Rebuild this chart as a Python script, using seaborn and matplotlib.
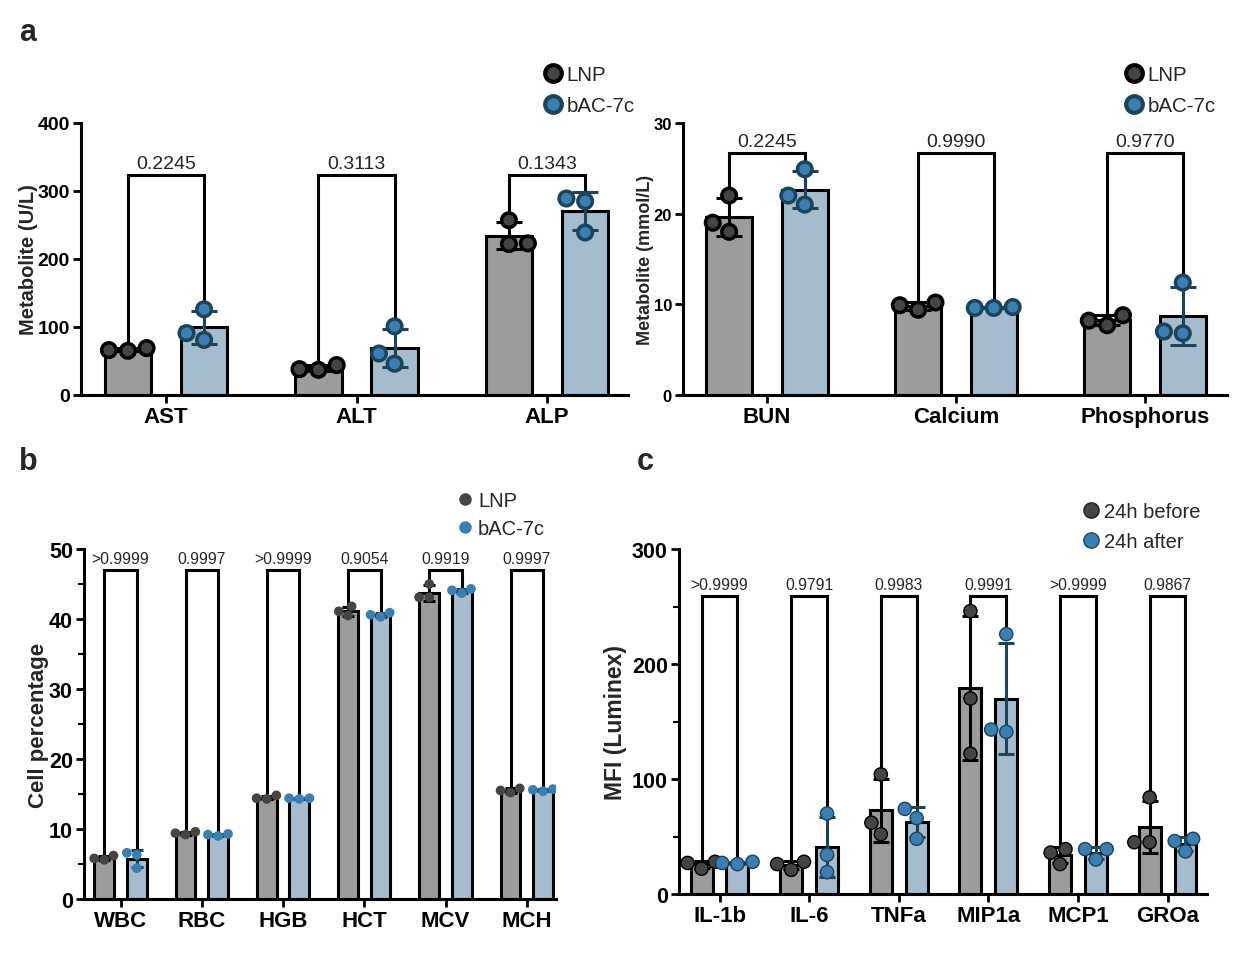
import numpy as np
import pandas as pd
import seaborn as sns
import matplotlib.pyplot as plt
from matplotlib.lines import Line2D
from matplotlib.collections import PathCollection
from matplotlib.colors import same_color

# === datos (3 replicas por grupo) ===
liver_cats = ['AST', 'ALT', 'ALP']
liver_lnp = [[65, 69, 66], [37, 44, 38], [257, 222, 223]]
liver_bac = [[126, 81, 91], [101, 46, 61], [289, 239, 285]]
liver_p = ['0.2245', '0.3113', '0.1343']

kidney_cats = ['BUN', 'Calcium', 'Phosphorus']
kidney_lnp = [[22.0, 18.0, 19.0], [9.4, 10.2, 9.9], [7.7, 8.8, 8.2]]
kidney_bac = [[24.9, 21.0, 22.0], [9.6, 9.7, 9.6], [12.4, 6.8, 7.0]]
kidney_p = ['0.2245', '0.9990', '0.9770']

cbc_cats = ['WBC', 'RBC', 'HGB', 'HCT', 'MCV', 'MCH']
cbc_lnp = [[5.6, 6.2, 5.8], [9.2, 9.6, 9.4], [14.3, 14.8, 14.4],
           [40.5, 41.8, 41.1], [43.1, 45.0, 43.1], [15.2, 15.8, 15.5]]
cbc_bac = [[6.6, 6.3, 4.4], [9.0, 9.3, 9.2], [14.3, 14.4, 14.4],
           [40.3, 40.9, 40.6], [43.7, 44.3, 44.1], [15.4, 15.7, 15.6]]
cbc_p = ['>0.9999', '0.9997', '>0.9999', '0.9054', '0.9919', '0.9997']

cyto_cats = ['IL-1b', 'IL-6', 'TNFa', 'MIP1a', 'MCP1', 'GROa']
cyto_before = [[22, 28, 27], [21, 28, 26], [104, 62, 52],
               [246, 170, 122], [39, 36, 26], [84, 45, 45]]
cyto_after = [[26, 28, 27], [70, 34, 19], [74, 66, 48],
              [226, 141, 143], [39, 39, 30], [48, 37, 46]]
cyto_p = ['>0.9999', '0.9791', '0.9983', '0.9991', '>0.9999', '0.9867']

treat_names = ['LNP', 'bAC-7c']
time_names = ['24h before', '24h after']

# colores
GRAY_BAR = '#9c9c9c'
BLUE_BAR = '#9dbdd5'
BLUE_EDGE = '#1c4459'
DOT_GRAY = '#444444'
DOT_BLUE = '#3a7fb4'

sns.set_theme(style='white')
plt.rcParams['font.family'] = ['Liberation Sans', 'DejaVu Sans']

fig = plt.figure(figsize=(12.46, 9.78), dpi=100)
W, H = 1246, 978


def box(left, top, right, bottom):
    return [left / W, 1 - bottom / H, (right - left) / W, (bottom - top) / H]


def long_df(cats, g1, g2, names):
    rows = []
    for c, a, b in zip(cats, g1, g2):
        rows += [(c, names[0], v) for v in a]
        rows += [(c, names[1], v) for v in b]
    return pd.DataFrame(rows, columns=['cat', 'group', 'val'])


def panel(ax, cats, g1, g2, pvals, names, opts):
    df = long_df(cats, g1, g2, names)
    lw = opts['lw']
    sns.barplot(data=df, x='cat', y='val', hue='group', order=cats, hue_order=names,
                palette=[GRAY_BAR, BLUE_BAR], errorbar=None, width=0.8, gap=0.39,
                linewidth=lw, edgecolor='black', legend=False, ax=ax, zorder=1)
    for p in ax.patches:
        if same_color(p.get_facecolor(), BLUE_BAR):
            p.set_edgecolor(BLUE_EDGE)

    # media +/- SD
    off = 0.2
    for i, (a, b) in enumerate(zip(g1, g2)):
        for vals, dx, col in [(a, -off, 'black'), (b, off, BLUE_EDGE)]:
            ax.errorbar(i + dx, np.mean(vals), yerr=np.std(vals, ddof=1), color=col,
                        lw=lw, capsize=opts['cap'], capthick=lw, zorder=3)

    sns.swarmplot(data=df, x='cat', y='val', hue='group', order=cats, hue_order=names,
                  palette=[DOT_GRAY, DOT_BLUE], dodge=True, size=opts['dot'],
                  linewidth=opts['dot_edge'], edgecolor='black', legend=False, ax=ax, zorder=4)
    for coll in ax.collections:
        if isinstance(coll, PathCollection) and len(coll.get_facecolor()):
            if same_color(coll.get_facecolor()[0], DOT_BLUE):
                coll.set_edgecolor(BLUE_EDGE)

    # corchetes con p-valor
    top = opts['bracket']
    for i, (a, b, p) in enumerate(zip(g1, g2, pvals)):
        ax.plot([i - off, i - off, i + off, i + off], [max(a), top, top, max(b)],
                color='black', lw=lw, zorder=2, solid_joinstyle='miter')
        ax.text(i, top + opts['ymax'] * 0.012, p, ha='center', va='bottom',
                fontsize=opts['p_fs'])

    ax.set_xlim(*opts['xlim'])
    ax.set_ylim(0, opts['ymax'])
    ax.set_yticks(np.arange(0, opts['ymax'] + 1e-9, opts['ystep']))
    if opts.get('minor'):
        ax.set_yticks(np.arange(opts['minor'], opts['ymax'], opts['ystep']), minor=True)
    ax.set_xlabel('')
    ax.set_ylabel(opts['ylabel'], fontsize=opts['ylab_fs'], fontweight='bold')
    ax.yaxis.set_label_coords(opts['labx'], 0.5)
    sns.despine(ax=ax)
    for s in ['left', 'bottom']:
        ax.spines[s].set_linewidth(2.2)
        ax.spines[s].set_color('black')
    ax.tick_params(axis='both', which='major', width=2, length=6, direction='out',
                   color='black', labelcolor='black', pad=2, bottom=True, left=True)
    ax.tick_params(axis='y', which='minor', width=1.5, length=4, direction='out',
                   color='black', left=True)
    ax.tick_params(axis='x', labelsize=opts['xt_fs'])
    ax.tick_params(axis='y', labelsize=opts['yt_fs'])
    for lbl in ax.get_xticklabels() + ax.get_yticklabels():
        lbl.set_fontweight('bold')


def add_legend(ax, names, x, y, ms, mew, edges, fs, spacing):
    handles = [Line2D([], [], ls='', marker='o', ms=ms, mfc=DOT_GRAY, mec=edges[0], mew=mew),
               Line2D([], [], ls='', marker='o', ms=ms, mfc=DOT_BLUE, mec=edges[1], mew=mew)]
    ax.legend(handles, names, loc='upper left', bbox_to_anchor=(x / W, 1 - y / H),
              bbox_transform=fig.transFigure, frameon=False, handlelength=0.7,
              handletextpad=0.3, borderpad=0, borderaxespad=0, labelspacing=spacing,
              fontsize=fs)


# === a: quimica sanguinea ===
ax_a1 = fig.add_axes(box(81, 124, 628, 396))
panel(ax_a1, liver_cats, liver_lnp, liver_bac, liver_p, treat_names,
      dict(lw=2.2, cap=9.5, dot=10.5, dot_edge=2.5, bracket=323, ymax=400,
           ystep=100, xlim=(-0.446, 2.425), ylabel='Metabolite (U/L)', ylab_fs=14.5,
           labx=(38 - 81) / 547, xt_fs=16, yt_fs=14, p_fs=14))
add_legend(ax_a1, treat_names, 546, 66, 12, 3, ['black', BLUE_EDGE], 14.8, 0.6)

ax_a2 = fig.add_axes(box(683, 124, 1227, 396))
panel(ax_a2, kidney_cats, kidney_lnp, kidney_bac, kidney_p, treat_names,
      dict(lw=2.2, cap=9.5, dot=10.5, dot_edge=2.5, bracket=26.7, ymax=30,
           ystep=10, xlim=(-0.444, 2.434), ylabel='Metabolite (mmol/L)', ylab_fs=13,
           labx=(654 - 683) / 544, xt_fs=16, yt_fs=12, p_fs=14))
add_legend(ax_a2, treat_names, 1127, 66, 12, 3, ['black', BLUE_EDGE], 14.8, 0.6)

# === b: hemograma ===
ax_b = fig.add_axes(box(84, 550, 556, 900))
panel(ax_b, cbc_cats, cbc_lnp, cbc_bac, cbc_p, treat_names,
      dict(lw=2.2, cap=4.5, dot=7, dot_edge=0, bracket=47.0, ymax=50,
           ystep=10, minor=5, xlim=(-0.45, 5.36), ylabel='Cell percentage', ylab_fs=16,
           labx=(49 - 84) / 472, xt_fs=16, yt_fs=15.5, p_fs=11.3))
add_legend(ax_b, treat_names, 458, 492, 9, 0, [DOT_GRAY, DOT_BLUE], 14.5, 0.45)

# === c: citoquinas ===
ax_c = fig.add_axes(box(679, 550, 1207, 895))
panel(ax_c, cyto_cats, cyto_before, cyto_after, cyto_p, time_names,
      dict(lw=2.2, cap=6, dot=9.5, dot_edge=1, bracket=259, ymax=300,
           ystep=100, minor=50, xlim=(-0.452, 5.44), ylabel='MFI (Luminex)', ylab_fs=16.5,
           labx=(627 - 679) / 528, xt_fs=16, yt_fs=15.5, p_fs=11.3))
add_legend(ax_c, time_names, 1084, 503, 11, 1, ['#222222', BLUE_EDGE], 14.5, 0.55)

for lab, (x, y) in zip('abc', [(28, 33), (28, 462), (645, 462)]):
    fig.text(x / W, 1 - y / H, lab, fontsize=22, fontweight='bold', va='center', ha='center')

fig.savefig('out.png', dpi=100, facecolor='white')
